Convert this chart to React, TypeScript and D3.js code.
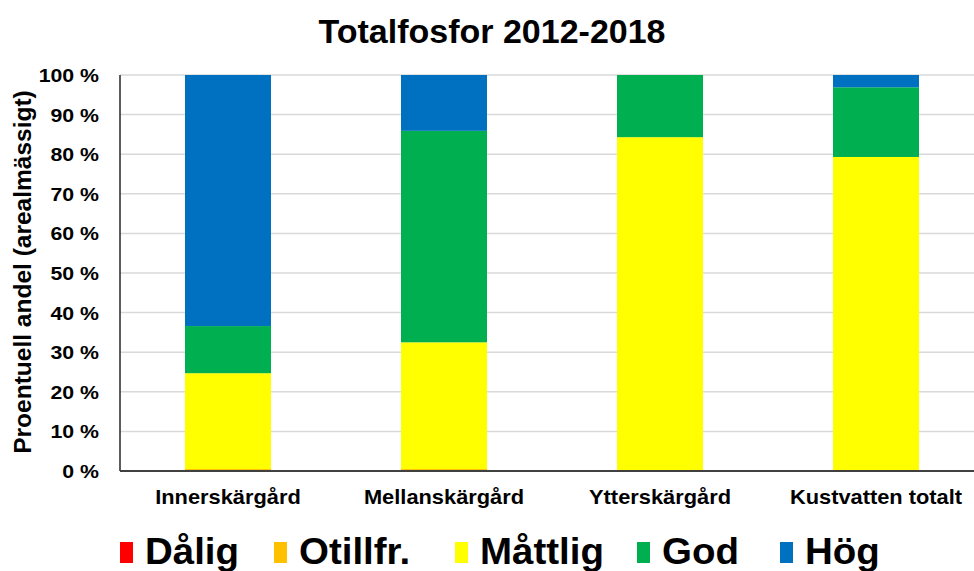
import React from "react";
import * as d3 from "d3";

const categories = ["Innerskärgård", "Mellanskärgård", "Ytterskärgård", "Kustvatten totalt"];
const seriesNames = ["Dålig", "Otillfr.", "Måttlig", "God", "Hög"];
const seriesColors = ["#FF0000", "#FFC000", "#FFFF00", "#00B050", "#0070C0"];
const dalig = [0, 0, 0, 0];
const otillfr = [0.5, 0.5, 0, 0.2];
const mattlig = [24.2, 32.0, 84.3, 79.1];
const god = [11.9, 53.4, 15.7, 17.6];
const hog = [63.4, 14.1, 0, 3.1];
const yTicks = [0, 10, 20, 30, 40, 50, 60, 70, 80, 90, 100];
const title = "Totalfosfor 2012-2018";
const yTitle = "Proentuell andel (arealmässigt)";

const W = 974;
const H = 571;
const left = 120;
const right = 984;
const top = 75;
const bottom = 471;
const SX = 1.12;

export default function App() {
  const values = [dalig, otillfr, mattlig, god, hog];
  const data = categories.map((c, i) => {
    const o: any = { cat: c };
    seriesNames.forEach((s, j) => (o[s] = values[j][i]));
    return o;
  });
  const stacked = d3.stack().keys(seriesNames)(data);
  const x = d3
    .scaleBand()
    .domain(categories)
    .range([left, right])
    .paddingInner(1 - 86 / 216)
    .paddingOuter(65 / 216);
  const y = d3.scaleLinear().domain([0, 100]).range([bottom, top]);
  const font = "'Liberation Sans', Arial, sans-serif";

  const legendX = [120, 274, 455, 637, 780];

  return (
    <svg width={W} height={H} style={{ position: "absolute", left: 0, top: 0, background: "#fff" }} fontFamily={font}>
      <rect width={W} height={H} fill="#fff" />
      <text x={492} y={43} textAnchor="middle" fontSize={34} fontWeight="bold" fill="#000">{title}</text>
      {yTicks.map((t) => (
        <g key={t}>
          {t > 0 && <line x1={left} x2={W} y1={y(t)} y2={y(t)} stroke="#d9d9d9" strokeWidth={1.5} />}
          <text transform={`translate(99,${y(t) + 7}) scale(${SX},1)`} textAnchor="end" fontSize={19} fontWeight="bold" fill="#000">{t} %</text>
        </g>
      ))}
      {stacked.map((s, j) => (
        <g key={s.key} fill={seriesColors[j]}>
          {s.map((d, i) => (
            <rect key={i} x={x(categories[i])} width={x.bandwidth()} y={y(d[1])} height={Math.max(0, y(d[0]) - y(d[1]))} />
          ))}
        </g>
      ))}
      <line x1={left} x2={left} y1={top} y2={bottom} stroke="#262626" strokeWidth={1.5} />
      <line x1={left} x2={W} y1={bottom} y2={bottom} stroke="#404040" strokeWidth={2} />
      {categories.map((c) => (
        <text key={c} transform={`translate(${(x(c) as number) + x.bandwidth() / 2},504) scale(${SX},1)`} textAnchor="middle" fontSize={19.5} fontWeight="bold" fill="#000">{c}</text>
      ))}
      <text transform={`translate(31,272) rotate(-90)`} textAnchor="middle" fontSize={24.5} fontWeight="bold" fill="#000">{yTitle}</text>
      {seriesNames.map((s, j) => (
        <g key={s}>
          <rect x={legendX[j]} y={542} width={13} height={21} fill={seriesColors[j]} />
          <text transform={`translate(${legendX[j] + 25},564) scale(1.04,1)`} fontSize={37} fontWeight="bold" fill="#000">{s}</text>
        </g>
      ))}
    </svg>
  );
}
